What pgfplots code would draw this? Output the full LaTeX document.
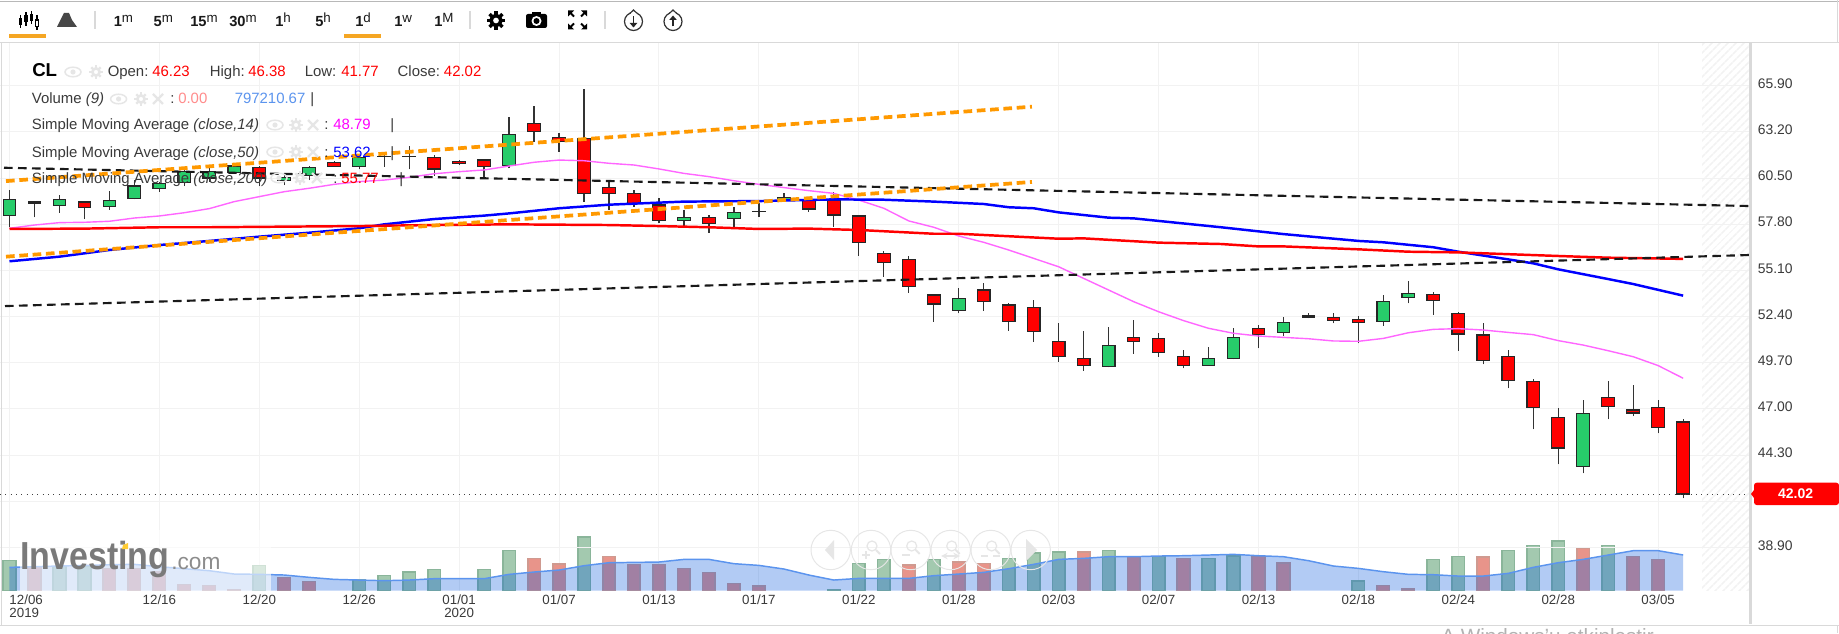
\documentclass[border=0pt]{standalone}
\usepackage{pgfplots}
\usepackage{pgfplotstable}
\usepackage{fontspec}
\setmainfont{Liberation Sans}
\pgfplotsset{compat=1.18}
\usetikzlibrary{patterns.meta}
\definecolor{cg}{HTML}{27CC6A}
\definecolor{cr}{HTML}{FF0000}
\definecolor{vg}{HTML}{A3C9AF}
\definecolor{vgb}{HTML}{8AB59A}
\definecolor{vr}{HTML}{E8948A}
\definecolor{vrb}{HTML}{CF9A90}
\definecolor{vline}{HTML}{5B94EE}
\definecolor{varea}{HTML}{0055DD}
\definecolor{grd}{HTML}{F2F2F2}
\definecolor{panel}{HTML}{D9D9D9}
\definecolor{org}{HTML}{FF9900}
\definecolor{tool}{HTML}{F5A623}
\definecolor{ltxt}{HTML}{3A3A3A}
\definecolor{ic}{HTML}{E6E6E6}
\definecolor{mag}{HTML}{FF66FF}
\definecolor{lmag}{HTML}{FF00FF}
\definecolor{lred}{HTML}{FF0000}
\definecolor{lblue}{HTML}{0000FF}
\definecolor{hatch}{HTML}{F2F2F2}

\pgfplotstableread{
i o h l c
0 58.32 59.80 57.66 59.23
1 59.10 59.18 58.20 59.02
2 58.90 59.51 58.47 59.23
3 59.10 59.18 58.10 58.77
4 58.84 59.72 58.63 59.16
5 59.31 60.38 59.25 60.03
6 59.88 60.29 59.70 60.19
7 60.25 60.97 60.03 60.87
8 60.50 61.07 60.29 60.89
9 60.81 61.36 60.77 61.20
10 61.10 61.20 60.03 60.50
11 60.36 60.67 60.09 60.52
12 60.64 61.20 60.38 61.10
13 61.40 61.51 61.16 61.18
14 61.16 61.85 61.01 61.71
15 61.74 61.90 61.16 61.76
16 61.74 62.37 61.01 61.76
17 61.71 61.85 60.62 61.03
18 61.47 61.55 61.26 61.34
19 61.55 61.59 60.58 61.18
20 61.22 64.09 61.07 63.02
21 63.70 64.71 62.63 63.23
22 62.88 63.15 62.04 62.64
23 62.82 65.69 59.12 59.58
24 59.95 60.29 58.63 59.58
25 59.58 59.80 58.82 59.00
26 58.92 59.31 57.89 58.04
27 58.04 58.63 57.62 58.20
28 58.20 58.34 57.30 57.83
29 58.12 58.82 57.52 58.49
30 58.54 59.02 58.24 58.56
31 59.21 59.64 59.12 59.35
32 59.21 59.41 58.53 58.69
33 59.21 59.70 57.66 58.34
34 58.28 58.34 55.96 56.74
35 56.09 56.23 54.73 55.55
36 55.72 55.94 53.80 54.17
37 53.66 53.66 52.10 53.13
38 52.76 54.05 52.59 53.44
39 53.95 54.34 52.74 53.29
40 53.07 53.17 51.57 52.10
41 52.94 53.37 50.93 51.51
42 50.95 52.00 49.76 50.07
43 49.92 51.55 49.23 49.55
44 49.47 51.81 49.43 50.73
45 51.18 52.20 50.21 50.95
46 51.09 51.46 50.05 50.29
47 50.07 50.44 49.37 49.55
48 49.55 50.64 49.51 49.94
49 49.92 51.71 49.90 51.16
50 51.69 51.90 50.54 51.36
51 51.45 52.35 51.26 52.04
52 52.43 52.63 52.29 52.33
53 52.35 52.59 52.00 52.18
54 52.22 52.43 50.83 52.04
55 52.12 53.66 51.85 53.29
56 53.50 54.48 53.17 53.73
57 53.71 53.81 52.49 53.35
58 52.57 52.65 50.40 51.38
59 51.32 52.00 49.60 49.84
60 50.07 50.44 48.20 48.67
61 48.61 48.76 45.80 47.07
62 46.48 47.03 43.76 44.71
63 43.62 47.52 43.23 46.72
64 47.66 48.63 46.39 47.13
65 46.93 48.39 46.58 46.76
66 47.07 47.52 45.57 45.90
67 46.23 46.38 41.77 42.02
}\candles

\pgfplotstableread{
i v
0 670
2 536
3 536
10 565
14 253
15 335
16 424
17 476
19 476
20 893
23 1205
33 30
34 610
35 699
37 699
40 722
41 848
42 870
44 893
46 759
48 722
49 774
54 223
57 699
58 759
60 893
61 1012
62 1116
64 1012
}\volup

\pgfplotstableread{
i v
1 536
4 498
5 498
6 424
7 141
8 112
9 30
11 298
12 201
21 722
22 595
24 759
25 588
26 588
27 498
28 409
29 164
30 104
36 573
38 647
39 610
43 863
45 759
47 722
50 759
51 625
55 112
56 37
59 751
63 945
65 759
66 699
}\voldown

\pgfplotstableread{
i v
0 521
2 551
4 580
5 588
6 536
8 446
9 372
10 365
11 350
12 298
13 253
14 238
15 223
16 238
17 268
19 268
20 365
21 417
22 461
23 558
24 625
25 632
26 640
27 699
28 699
29 603
30 565
31 484
32 350
33 238
34 275
36 275
37 335
38 372
39 409
40 491
41 588
42 699
43 722
44 759
45 759
46 774
47 781
48 796
49 811
50 781
51 759
52 670
53 551
54 498
55 424
56 365
57 357
58 327
59 327
60 387
61 521
62 625
63 699
64 796
65 893
66 893
67 797.21
}\volma

\pgfplotstableread{
i p
0 57.56
1 57.75
2 57.89
3 57.91
4 57.97
5 58.16
6 58.28
7 58.47
8 58.71
9 59.12
10 59.41
11 59.70
12 59.90
13 60.13
14 60.29
15 60.38
16 60.54
17 60.75
18 60.87
19 60.97
20 61.20
21 61.42
22 61.55
23 61.51
24 61.36
25 61.26
26 61.03
27 60.77
28 60.58
29 60.34
30 60.13
31 59.94
32 59.76
33 59.60
34 59.21
35 58.73
36 57.99
37 57.62
38 57.11
39 56.74
40 56.29
41 55.80
42 55.31
43 54.63
44 53.95
45 53.27
46 52.68
47 52.16
48 51.71
49 51.42
50 51.26
51 51.18
52 51.10
53 50.97
54 50.95
55 51.12
56 51.45
57 51.65
58 51.69
59 51.61
60 51.47
61 51.34
62 50.99
63 50.73
64 50.40
65 50.05
66 49.53
67 48.79
}\smaA

\pgfplotstableread{
i p
0 55.63
2 55.90
4 56.29
6 56.58
8 56.82
10 57.07
12 57.30
14 57.56
15 57.79
17 58.10
19 58.30
20 58.43
22 58.73
24 58.94
27 59.12
30 59.15
33 59.25
35 59.23
37 59.12
39 58.98
40 58.79
41 58.73
42 58.49
44 58.18
45 58.14
46 57.99
48.5 57.62
51 57.22
54 56.82
55 56.74
57 56.45
58 56.19
60 55.74
61 55.51
62 55.16
64 54.59
65 54.30
67 53.62
}\smaB

\pgfplotstableread{
i p
0 57.52
3 57.54
6 57.62
8 57.62
14 57.69
17 57.75
20 57.79
24 57.75
26 57.69
28 57.62
30 57.52
32 57.54
34 57.46
37 57.24
38 57.24
42 56.95
43 56.97
46 56.72
48.5 56.64
50 56.50
51 56.50
54 56.33
56 56.19
58 56.15
62 55.94
64 55.84
67 55.77
}\smaC

\pgfplotsset{
  chart/.style={scale only axis,width=1313.25pt,height=410.775pt,
    at={(0pt,31.725pt)},anchor=south west,xmin=-0.3803,xmax=69.716},
  price/.style={chart,ymin=36.366,ymax=68.395,hide axis}
}
\newcommand{\lab}[4][ltxt]{\node[anchor=base west,inner sep=0pt,text=#1] at (#2,#3) {#4};}
\newcommand{\eyei}[3][ic]{\draw[#1,line width=1.1pt] (#2,#3) ellipse [x radius=8,y radius=4.8];\fill[#1] (#2,#3) circle [radius=2.6];}
\newcommand{\geari}[5][]{\begin{scope}[shift={(#2,#3)}]
  \foreach \ga in {0,45,...,315} {\draw[#5,line width=#4*0.27pt] (\ga:{0.62*#4}) -- (\ga:{1.02*#4});}
  \draw[#5,line width=#4*0.3pt] (0,0) circle [radius={0.55*#4}];\end{scope}}
\newcommand{\xci}[3][ic]{\draw[#1,line width=1.7pt] (#2-5,#3-5) -- (#2+5,#3+5) (#2-5,#3+5) -- (#2+5,#3-5);}
\newcommand{\ttool}[3]{\node[anchor=base west,inner sep=0pt,text=black!90] at (#1,27) {\fontsize{11}{11}\selectfont\bfseries #2\raisebox{3.2pt}{\fontsize{10}{10}\selectfont\mdseries #3}};}
\newcommand{\sepi}[1]{\draw[panel,line width=.9pt] (#1,11) -- (#1,29);}

\begin{document}
\begin{tikzpicture}
\fill[white] (0,0) rectangle (1379.25pt,474.75pt);
\begin{scope}
\clip (0,0) rectangle (1379.25pt,474.75pt);

\begin{scope}[x=0.75pt,y=-0.75pt,shift={(0pt,474.75pt)}]
\fill[pattern={Lines[angle=45,distance=4pt,line width=1.2pt]},pattern color=hatch] (1702,43) rectangle (1749,590.7);
\end{scope}

\begin{axis}[chart,ymin=0,ymax=12225,
  axis line style={draw=none},
  major tick style={draw=none},
  axis y line=none,
  xtick={0,6,10,14,18,22,26,30,34,38,42,46,50,54,58,62,66},
  xticklabels={{\rlap{\begin{tabular}[t]{@{}l@{}}12/06\\2019\end{tabular}}},12/16,12/20,12/26,{\begin{tabular}[t]{@{}c@{}}01/01\\2020\end{tabular}},01/07,01/13,01/17,01/22,01/28,02/03,02/07,02/13,02/18,02/24,02/28,03/05},
  xticklabel style={font=\fontsize{10}{8.8}\selectfont,text=ltxt,anchor=north,inner sep=0pt,yshift=-3pt},
  xmajorgrids,
  major grid style={grd,line width=.75pt},
]
\addplot[ybar,bar width=9.4pt,bar shift=0pt,fill=vg,draw=vgb,line width=1.2pt] table[x=i,y=v]{\volup};
\addplot[ybar,bar width=9.4pt,bar shift=0pt,fill=vr,draw=vrb,line width=1.2pt] table[x=i,y=v]{\voldown};
\addplot[fill=varea,fill opacity=.3,draw=none] table[x=i,y=v]{\volma} \closedcycle;
\addplot[vline,line width=1.1pt] table[x=i,y=v]{\volma};
\end{axis}

\begin{axis}[chart,ymin=36.366,ymax=68.395,
  axis line style={draw=none},
  major tick style={draw=none},
  axis x line=none,
  yticklabel pos=right,
  ytick={38.9,41.6,44.3,47,49.7,52.4,55.1,57.8,60.5,63.2,65.9},
  yticklabels={38.90,,44.30,47.00,49.70,52.40,55.10,57.80,60.50,63.20,65.90},
  yticklabel style={font=\fontsize{10.4}{12}\selectfont,text=ltxt,anchor=west,inner sep=0pt,xshift=5pt,yshift=1.5pt},
  ymajorgrids,
  major grid style={grd,line width=.75pt},
]
\addplot[draw=none,forget plot] coordinates {(0,50) (1,50)};
\end{axis}

\begin{scope}[x=0.75pt,y=-0.75pt,shift={(0pt,474.75pt)}]
\fill[white,opacity=.6] (20,530) rectangle (271,590.7);
\node[anchor=base west,inner sep=0pt,text=black!52] at (20,569) {\fontsize{25.5}{26}\selectfont\bfseries\scalebox{1}[1.15]{Investing}};
\node[anchor=base west,inner sep=0pt,text=black!45] at (171,569) {\fontsize{17}{18}\selectfont .com};
\fill[orange!50!yellow!80] (122,549) -- (123,545) -- (128,543) -- (128,549) -- cycle;
\end{scope}

\begin{axis}[price]
\addplot[draw=none,mark=none,forget plot,
  error bars/.cd,y dir=plus,y explicit,error mark=none,
  error bar style={line width=.95pt,color=black!80}]
  table[x=i,y=l,y error expr=\thisrow{h}-\thisrow{l}]{\candles};
\end{axis}

\begin{axis}[price,ybar stacked,bar width=9.5pt]
\addplot[draw=none,fill=none] table[x=i,y expr={min(\thisrow{o},\thisrow{c})}]{\candles};
\addplot[draw=black!85,fill=cg,line width=.85pt] table[x=i,y expr={max(\thisrow{c}-\thisrow{o},0)}]{\candles};
\addplot[draw=black!85,fill=cr,line width=.85pt] table[x=i,y expr={max(\thisrow{o}-\thisrow{c},0)}]{\candles};
\end{axis}

\begin{axis}[price]
\addplot[black!75,line width=.75pt,dash pattern=on .8pt off 3.2pt] coordinates {(-0.38,42.02) (69.72,42.02)};
\addplot[mag,line width=1.05pt] table[x=i,y=p]{\smaA};
\addplot[blue,line width=1.85pt] table[x=i,y=p]{\smaB};
\addplot[red,line width=1.85pt] table[x=i,y=p]{\smaC};
\addplot[black!90,line width=1.6pt,dash pattern=on 6.5pt off 4pt] coordinates {(-0.22,61.10) (69.68,58.86)};
\addplot[black!90,line width=1.6pt,dash pattern=on 6.5pt off 4pt] coordinates {(-0.18,53.01) (69.72,56.00)};
\addplot[org,line width=2.8pt,dash pattern=on 6.5pt off 3.5pt] coordinates {(-0.14,60.32) (40.93,64.67)};
\addplot[org,line width=2.8pt,dash pattern=on 6.5pt off 3.5pt] coordinates {(-0.14,55.90) (40.93,60.27)};
\end{axis}

\begin{scope}[x=0.75pt,y=-0.75pt,shift={(0pt,474.75pt)}]
\draw[black!28,line width=.9pt] (0,1.2) -- (1839,1.2);
\draw[panel,line width=.9pt] (0,42.7) -- (1839,42.7);
\draw[panel,line width=.9pt] (1.2,42.7) -- (1.2,625.5);
\draw[panel,line width=.9pt] (0,625.5) -- (1839,625.5);
\draw[panel,line width=.9pt] (1837.7,0) -- (1837.7,42.7);
\draw[panel,line width=.9pt] (1837.7,625.5) -- (1837.7,633);
\fill[panel] (1749.3,43) rectangle (1751.7,624);
\begin{scope}[overlay]
\node[anchor=base west,inner sep=0pt,text=black!30] at (1441,643) {\fontsize{15.5}{16}\selectfont A Windows'u etkinle\c{s}tir};
\end{scope}
\fill[tool] (9,34) rectangle (46,38);
\fill[tool] (344,34) rectangle (381,38);
\foreach \xx/\bt/\bb/\lo/\hi in {20.5/18/25/15/28,26/15/22/12/26,31.5/14/21/11/24,37/19/27/15/30}{
  \draw[black,line width=.9pt] (\xx,\lo) -- (\xx,\hi);
  \fill[black] (\xx-1.6,\bt) rectangle (\xx+1.6,\bb);}
\fill[white] (36,21) rectangle (38,26);
\fill[black!72] (57,27) -- (64,13) -- (69,13) -- (72,20) -- (77,27) -- cycle;
\sepi{95}\sepi{470}\sepi{605}
\ttool{113.5}{1}{m}\ttool{153.4}{5}{m}\ttool{190}{15}{m}\ttool{229}{30}{m}
\ttool{275}{1}{h}\ttool{315}{5}{h}\ttool{355}{1}{d}\ttool{394}{1}{w}\ttool{434}{1}{M}
\geari{496}{20.5}{9}{black}
\fill[black,rounded corners=1.5pt] (526,14) rectangle (547,28);
\fill[black] (532,12) rectangle (541,15);
\fill[white] (536.5,21) circle [radius=5];
\fill[black] (536.5,21) circle [radius=3];
\foreach \sx/\sy in {1/1,1/-1,-1/1,-1/-1}{
  \fill[black] (577.5+\sx*9.5,20+\sy*9.5) -- (577.5+\sx*3.5,20+\sy*9.5) -- (577.5+\sx*9.5,20+\sy*3.5) -- cycle;
  \draw[black,line width=1.5pt] (577.5+\sx*7,20+\sy*7) -- (577.5+\sx*3.5,20+\sy*3.5);}
\foreach \cx/\ang in {633.5/1,673/-1}{
  \draw[black!80,line width=.9pt] (\cx,21.5) circle [radius=9];
  \fill[white] (\cx-3,11) rectangle (\cx+3,14);
  \draw[black!80,line width=.9pt] (\cx-3.5,13.3) .. controls (\cx-2,11) .. (\cx,10) .. controls (\cx+2,11) .. (\cx+3.5,13.3);
  \draw[black!85,line width=1.3pt] (\cx,21.5-\ang*5) -- (\cx,21.5+\ang*3);
  \fill[black!85] (\cx-3.8,21.5+\ang*1.5) -- (\cx+3.8,21.5+\ang*1.5) -- (\cx,21.5+\ang*6) -- cycle;}
\node[anchor=base west,inner sep=0pt,text=black] at (32,77) {\fontsize{14}{14}\selectfont\bfseries CL};
\eyei{73}{72}\geari{96}{72}{6.5}{ic}
\begin{scope}[font=\fontsize{11.2}{12}\selectfont]
\lab{107.5}{76.5}{Open:}\lab[lred]{152}{76.5}{46.23}
\lab{209.6}{76.5}{High:}\lab[lred]{248}{76.5}{46.38}
\lab{304.5}{76.5}{Low:}\lab[lred]{341}{76.5}{41.77}
\lab{397.4}{76.5}{Close:}\lab[lred]{443.7}{76.5}{42.02}
\lab{31.6}{104}{Volume \textit{(9)}}
\eyei{118.6}{99}\geari{141}{99}{6.5}{ic}\xci{158}{99}
\lab{170}{104}{:}\lab[lred!45]{178}{104}{0.00}
\lab[vline]{234.5}{104}{797210.67}\lab{310}{104}{|}
\lab{31.6}{130}{Simple Moving Average \textit{(close,14)}}
\eyei{275}{125}\geari{296}{125}{6.5}{ic}\xci{313}{125}
\lab{324}{130}{:}\lab[lmag]{333}{130}{48.79}\lab{390}{130}{|}
\lab{31.6}{157.3}{Simple Moving Average \textit{(close,50)}}
\eyei{275}{152}\geari{296}{152}{6.5}{ic}\xci{313}{152}
\lab{324}{157.3}{:}\lab[lblue]{333}{157.3}{53.62}\lab{390}{157.3}{|}
\lab{31.6}{183.3}{Simple Moving Average \textit{(close,200)}}
\eyei{279}{178}\geari{300}{178}{6.5}{ic}\xci{317}{178}
\lab{333}{183.3}{:}\lab[lred]{341}{183.3}{55.77}\lab{399}{183.3}{|}
\end{scope}
\fill[red,rounded corners=2pt] (1754,482.7) rectangle (1839,505);
\fill[red] (1754,490) -- (1751,494) -- (1754,498) -- cycle;
\node[text=white,inner sep=0pt,font=\fontsize{10.5}{12}\selectfont\bfseries] at (1795.6,493.5) {42.02};
\foreach \bx in {830.7,871,910.7,950.7,990.7,1030.7}{\draw[ic,line width=.7pt] (\bx,550) circle [radius=19.7];}
\fill[ic] (825,550) -- (834,540) -- (834,560) -- cycle;
\fill[ic] (1026,539) -- (1026,561) -- (1037,550) -- cycle;
\foreach \bx in {871,910.7,950.7,990.7}{
  \draw[ic,line width=.9pt] (\bx+1,546) circle [radius=5];
  \draw[ic,line width=1.5pt] (\bx+5,550) -- (\bx+9,554);}
\draw[ic,line width=1.2pt] (862,555) -- (870,555) (866,551) -- (866,559);
\draw[ic,line width=1.2pt] (902,555) -- (910,555);
\draw[ic,line width=1.2pt,<->,>=stealth] (941,556) -- (960,556);
\draw[ic,line width=1.2pt] (981,556) -- (988,556) (993,556) -- (1000,556);
\end{scope}
\end{scope}
\end{tikzpicture}
\end{document}
